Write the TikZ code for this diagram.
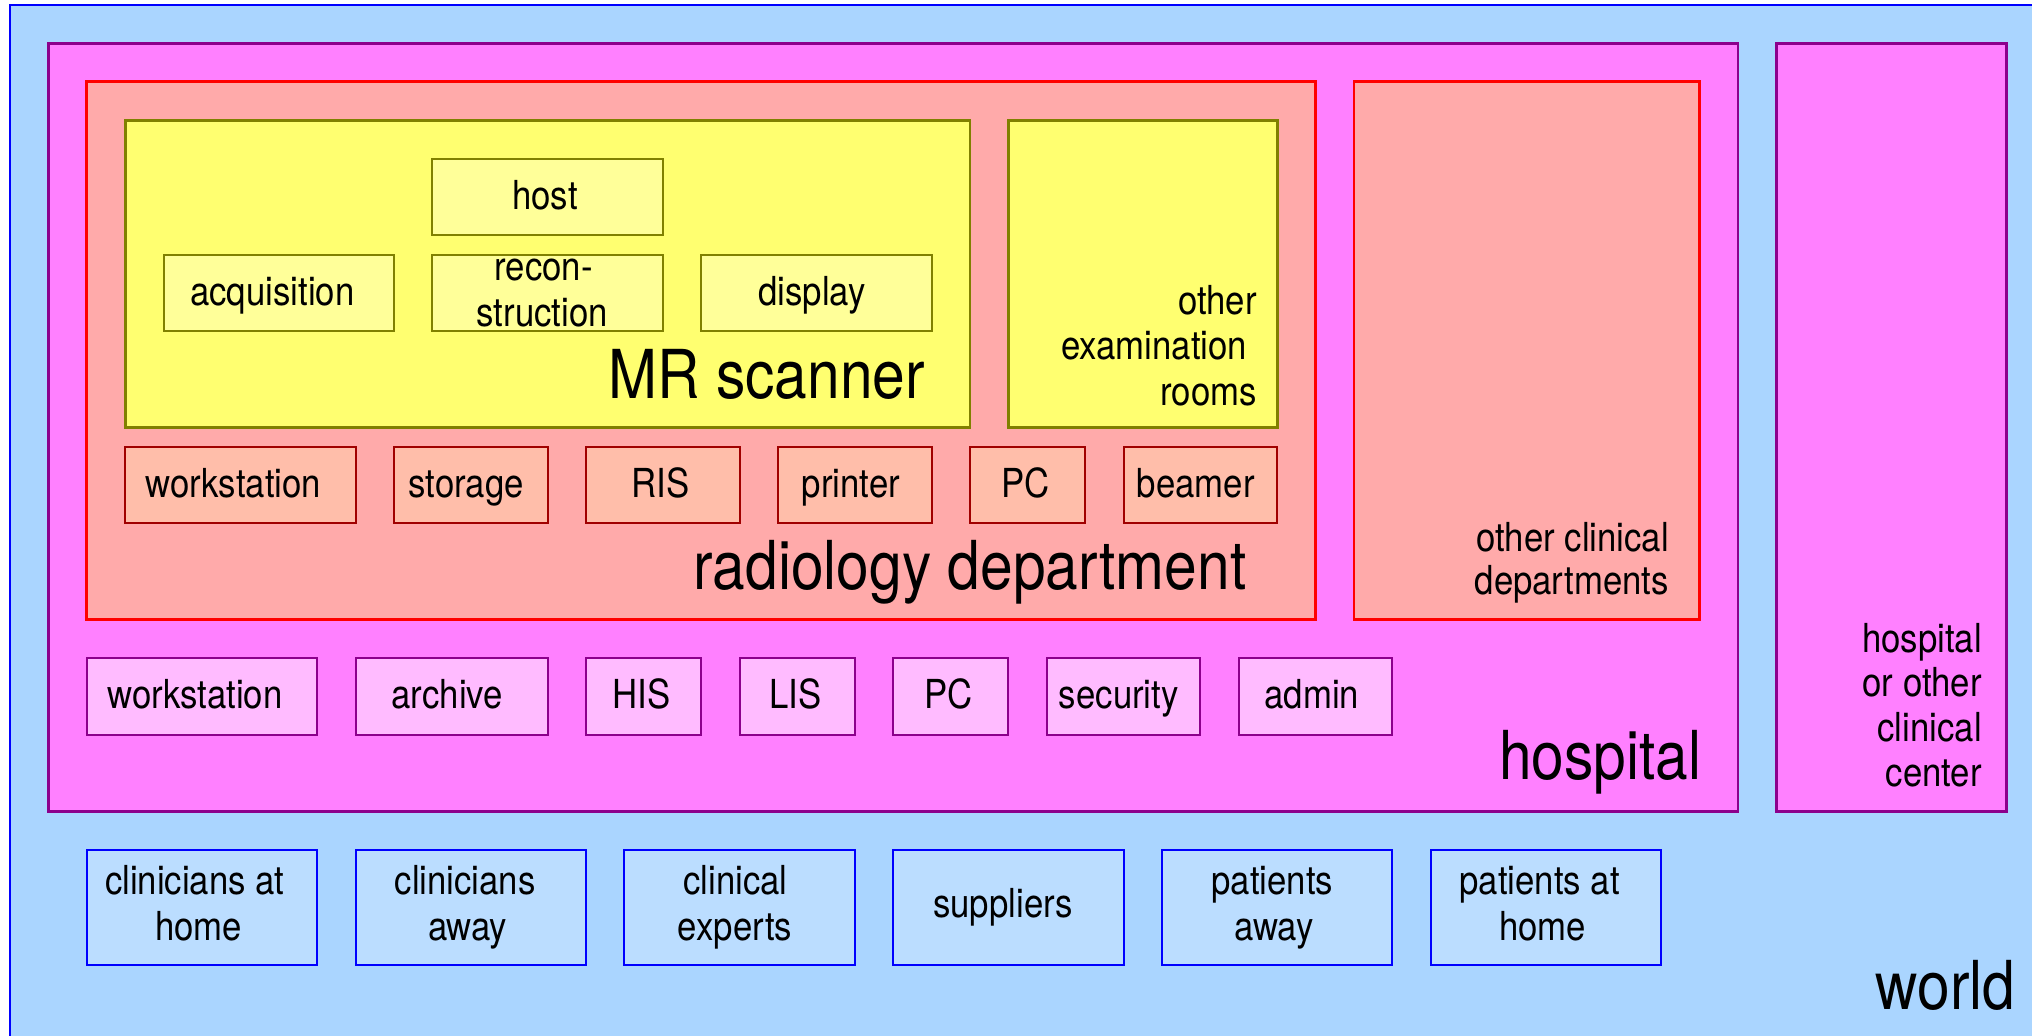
\documentclass[tikz,border=0pt]{standalone}
\usepackage{fontspec}
\setmainfont[FakeStretch=0.87]{TeX Gyre Heros}
\definecolor{worldfill}{RGB}{170,213,255}
\definecolor{worldline}{RGB}{0,0,255}
\definecolor{worldbox}{RGB}{187,221,255}
\definecolor{hospfill}{RGB}{255,128,255}
\definecolor{hospline}{RGB}{140,0,140}
\definecolor{hospbox}{RGB}{255,187,255}
\definecolor{radfill}{RGB}{255,170,170}
\definecolor{radline}{RGB}{255,0,0}
\definecolor{radbox}{RGB}{255,190,170}
\definecolor{radboxline}{RGB}{160,0,0}
\definecolor{mrfill}{RGB}{255,255,112}
\definecolor{mrline}{RGB}{128,128,0}
\definecolor{mrbox}{RGB}{255,255,153}
% text drawn slightly left of centre, as in the original
\newcommand\txsh[1]{\setbox0=\hbox{#1}\copy0\kern0.08\wd0}
\begin{document}
\begin{tikzpicture}[x=0.5cm,y=-0.5cm,
  every node/.style={inner sep=0pt, outer sep=0pt},
  txts/.style={font=\fontsize{14.8pt}{17pt}\selectfont},
  txtb/.style={font=\fontsize{25pt}{30pt}\selectfont},
  region/.style={draw, rectangle, line width=1pt},
  worldregion/.style={region, draw=worldline, fill=worldfill},
  hospregion/.style={region, draw=hospline, fill=hospfill},
  radregion/.style={region, draw=radline, fill=radfill},
  mrregion/.style={region, draw=mrline, fill=mrfill},
  lbl/.style={txts, anchor=base east},
  biglbl/.style={txtb, anchor=base east},
  itembox/.style={draw, rectangle, line width=0.8pt, txts, align=center, minimum height=1cm},
  oneline/.style={text height=10.7pt, text depth=1.7pt},
  mritem/.style={itembox, draw=mrline, fill=mrbox},
  raditem/.style={itembox, oneline, draw=radboxline, fill=radbox},
  hospitem/.style={itembox, oneline, draw=hospline, fill=hospbox},
  worlditem/.style={itembox, draw=worldline, fill=worldbox, minimum height=1.5cm, text depth=3.1pt},
]
\path[use as bounding box, fill=white] (-0.2604,-0.1302) rectangle (52.656,26.849);
\clip (-0.2604,-0.1302) rectangle (52.656,26.849);

% containers
\node[worldregion, minimum width=27cm, minimum height=14cm] (world) at (27,14) {};
\node[hospregion, minimum width=22cm, minimum height=10cm] (hospital) at (23,11) {};
\node[hospregion, minimum width=3cm, minimum height=10cm] (hospother) at (49,11) {};
\node[radregion, minimum width=16cm, minimum height=7cm] (radiology) at (18,9) {};
\node[radregion, minimum width=4.5cm, minimum height=7cm] (otherclin) at (39.5,9) {};
\node[mrregion, minimum width=11cm, minimum height=4cm] (mr) at (14,7) {};
\node[mrregion, minimum width=3.5cm, minimum height=4cm] (otherexam) at (29.5,7) {};

% MR scanner items
\node[mritem, oneline, minimum width=3cm] (host) at (14,5) {\txsh{host}};
\node[mritem, oneline, minimum width=3cm] (acq) at (7,7.5) {\txsh{acquisition}};
\node[mritem, minimum width=3cm] (recon) at (14,7.5) {\txsh{recon-}\\\txsh{struction}};
\node[mritem, oneline, minimum width=3cm] (disp) at (21,7.5) {\txsh{display}};
\node[biglbl] (mrlbl) at (23.83,10.26) {MR scanner};

% other examination rooms
\node[lbl] (oer1) at (32.47,8.07) {other};
\node[lbl] (oer2) at (32.47,9.22) {examination\kern.24em};
\node[lbl] (oer3) at (32.47,10.42) {rooms};

% radiology items
\node[raditem, minimum width=3cm] (rws) at (6,12.5) {\txsh{workstation}};
\node[raditem, minimum width=2cm] (rst) at (12,12.5) {\txsh{storage}};
\node[raditem, minimum width=2cm] (ris) at (17,12.5) {\txsh{RIS}};
\node[raditem, minimum width=2cm] (rpr) at (22,12.5) {\txsh{printer}};
\node[raditem, minimum width=1.5cm] (rpc) at (26.5,12.5) {\txsh{PC}};
\node[raditem, minimum width=2cm] (rbe) at (31,12.5) {\txsh{beamer}};
\node[biglbl] (radlbl) at (32.2,15.22) {radiology department};

% other clinical departments
\node[lbl] (ocd1) at (43.2,14.22) {other clinical};
\node[lbl] (ocd2) at (43.2,15.35) {departments};

% hospital items
\node[hospitem, minimum width=3cm] (hws) at (5,18) {\txsh{workstation}};
\node[hospitem, minimum width=2.5cm] (har) at (11.5,18) {\txsh{archive}};
\node[hospitem, minimum width=1.5cm] (his) at (16.5,18) {\txsh{HIS}};
\node[hospitem, minimum width=1.5cm] (lis) at (20.5,18) {\txsh{LIS}};
\node[hospitem, minimum width=1.5cm] (hpc) at (24.5,18) {\txsh{PC}};
\node[hospitem, minimum width=2cm] (hse) at (29,18) {\txsh{security}};
\node[hospitem, minimum width=2cm] (had) at (34,18) {\txsh{admin}};
\node[biglbl] (hosplbl) at (44.05,20.18) {hospital};

% hospital or other clinical center
\node[lbl] (hoc1) at (51.35,16.85) {hospital};
\node[lbl] (hoc2) at (51.35,18.02) {or other};
\node[lbl] (hoc3) at (51.35,19.19) {clinical};
\node[lbl] (hoc4) at (51.35,20.36) {center};

% world items
\node[worlditem, minimum width=3cm] (cah) at (5,23.5) {\txsh{clinicians at}\\\txsh{home}};
\node[worlditem, minimum width=3cm] (caw) at (12,23.5) {\txsh{clinicians}\\\txsh{away}};
\node[worlditem, minimum width=3cm] (cex) at (19,23.5) {\txsh{clinical}\\\txsh{experts}};
\node[worlditem, minimum width=3cm] (sup) at (26,23.5) {\txsh{suppliers}};
\node[worlditem, minimum width=3cm] (paw) at (33,23.5) {\txsh{patients}\\\txsh{away}};
\node[worlditem, minimum width=3cm] (pah) at (40,23.5) {\txsh{patients at}\\\txsh{home}};
\node[biglbl] (worldlbl) at (52.22,26.17) {world};
\end{tikzpicture}
\end{document}
